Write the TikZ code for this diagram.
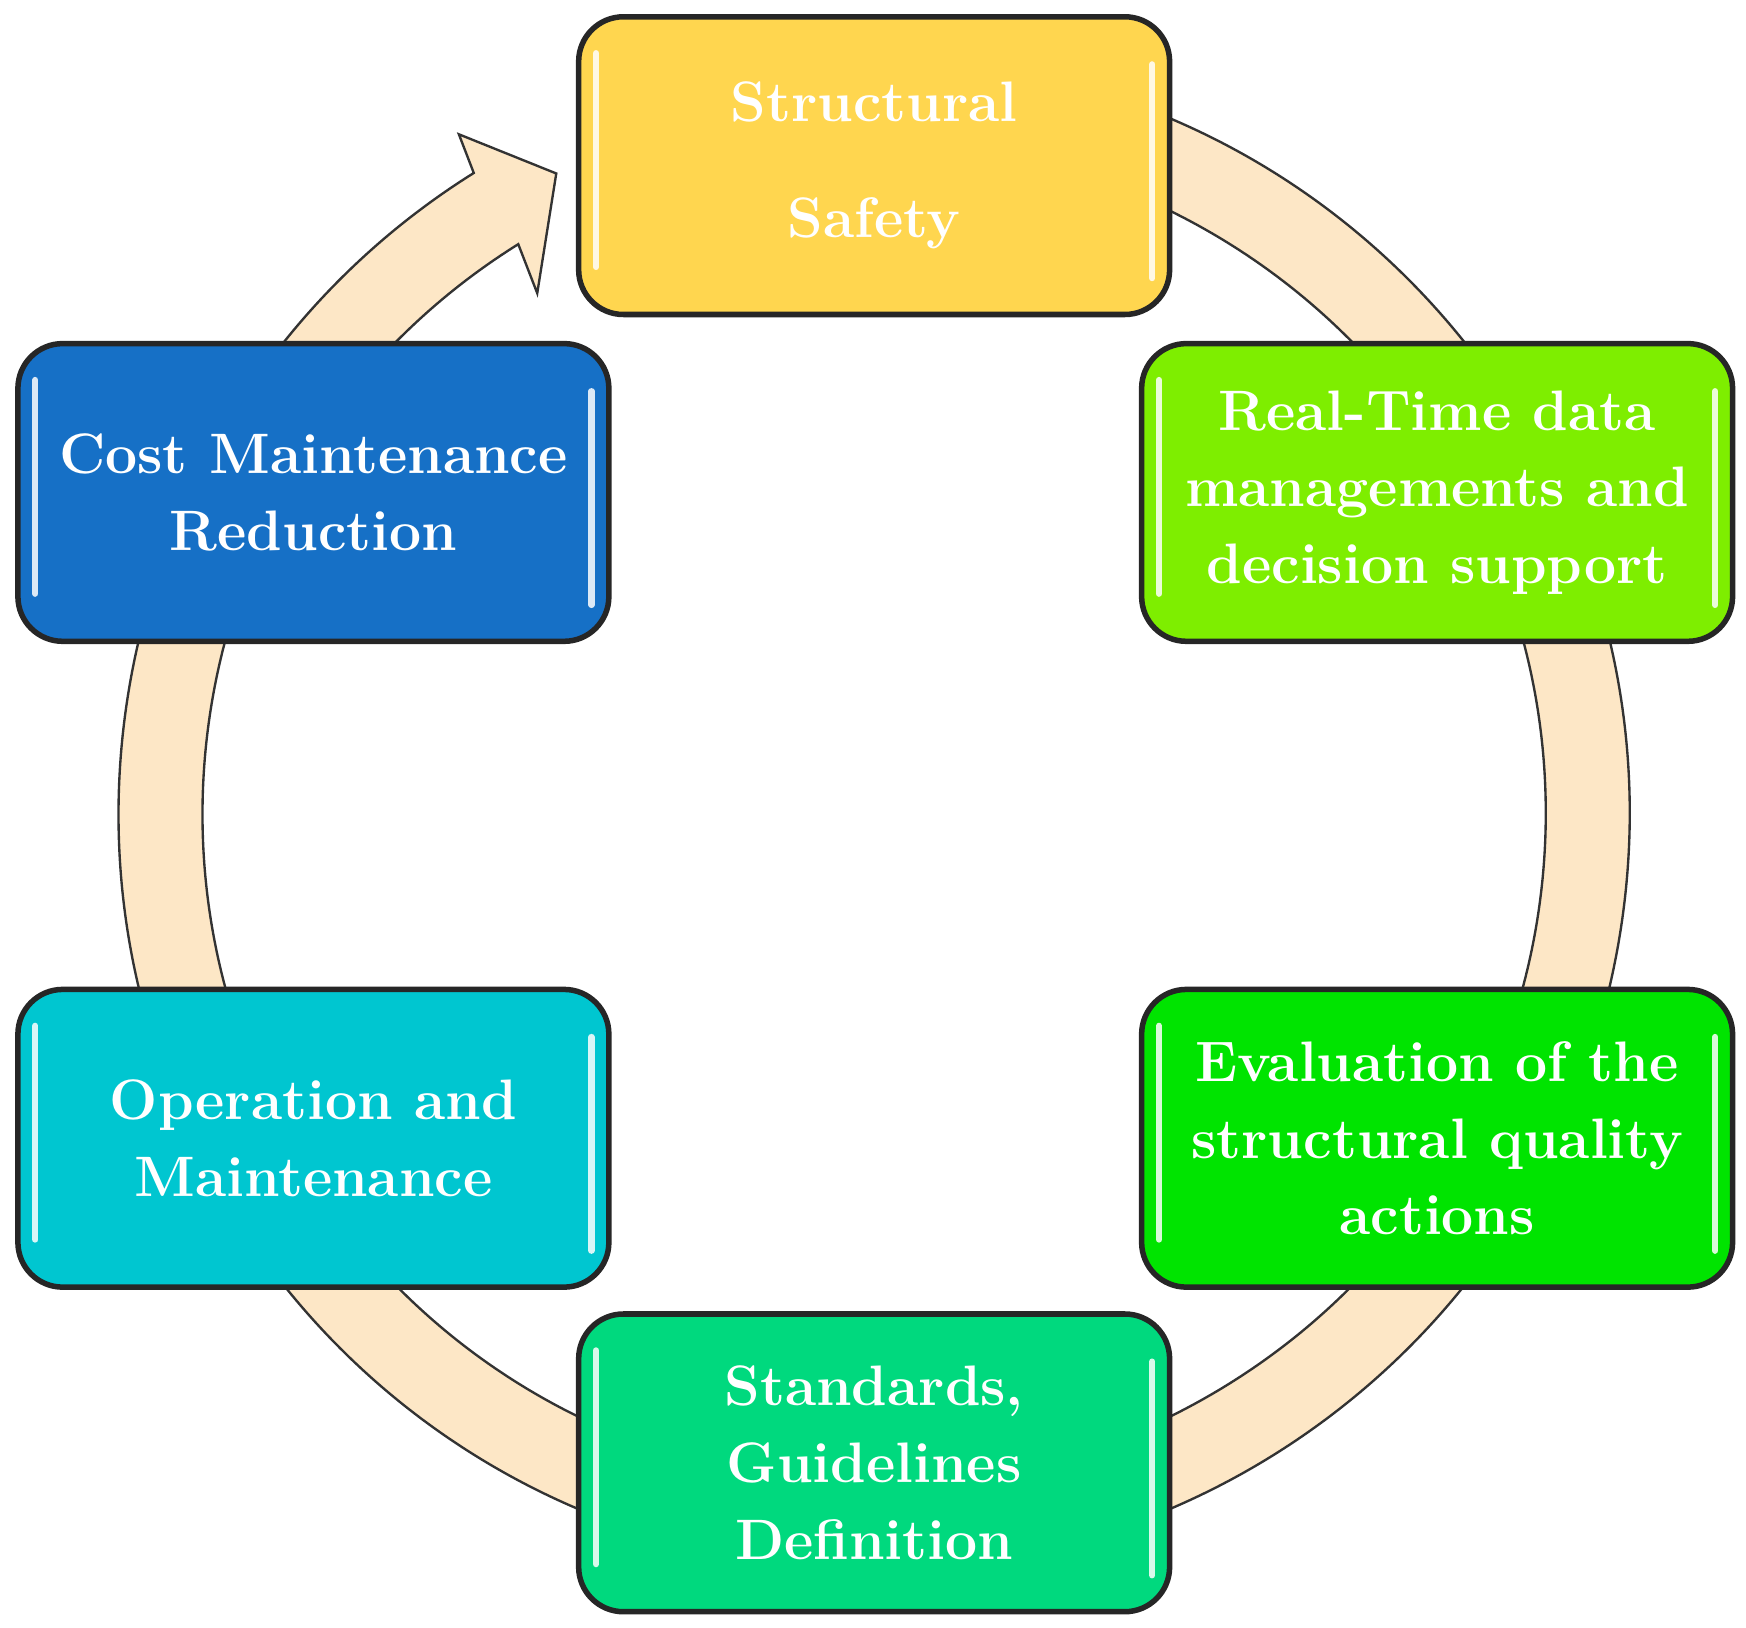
\documentclass[tikz,border=0pt]{standalone}
\usetikzlibrary{calc}
\begin{document}
\begin{tikzpicture}
\definecolor{ring}{HTML}{FDE7C6}
\definecolor{cA}{HTML}{FFD64F}
\definecolor{cB}{HTML}{7EEE00}
\definecolor{cC}{HTML}{00E400}
\definecolor{cD}{HTML}{00D97E}
\definecolor{cE}{HTML}{00C6D0}
\definecolor{cF}{HTML}{1670C6}
\tikzset{
  box/.style={draw=black!85,line width=1.4pt,rounded corners=0.4cm,minimum width=5.28cm,minimum height=2.66cm,
    align=center,text=white,font=\fontsize{14.5}{19.5}\selectfont\bfseries,inner sep=0pt},
  hl/.style={white,line width=1.6pt,line cap=round,opacity=0.85}
}
\useasboundingbox (0,0) rectangle (15.6,14.54);
\coordinate (c) at (7.81,7.27);
\filldraw[fill=ring,draw=black!80,line width=0.6pt]
  (c) ++(80:6.75) arc(80:-238:6.75) -- (4.10,13.34) -- (4.97,12.99) -- (4.80,11.92)
  -- ($(c)+(-238:6.0)$) arc(-238:80:6.0) -- cycle;
\foreach \n/\x/\y/\col/\t in {
  a/7.81/13.06/cA/{Structural\\[0.35cm]Safety},
  b/12.84/10.14/cB/{Real-Time data\\managements and\\decision support},
  cc/12.84/4.37/cC/{Evaluation of the\\structural quality\\actions},
  d/7.81/1.47/cD/{Standards,\\Guidelines\\Definition},
  e/2.80/4.37/cE/{Operation and\\Maintenance},
  f/2.80/10.14/cF/{Cost Maintenance\\Reduction}}{
  \node[box,fill=\col] (\n) at (\x,\y) {\t};
  \draw[hl] ($(\n.north west)+(0.18,-0.35)$) -- ($(\n.south west)+(0.18,0.45)$);
  \draw[hl] ($(\n.north east)+(-0.18,-0.45)$) -- ($(\n.south east)+(-0.18,0.35)$);
}
\end{tikzpicture}
\end{document}
